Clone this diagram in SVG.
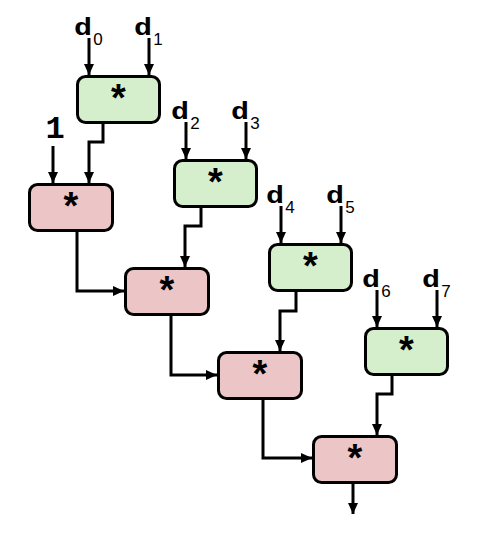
<svg xmlns="http://www.w3.org/2000/svg" width="498" height="546" viewBox="0 0 498 546">
<style>
.box{stroke:#000;stroke-width:3}
.g{fill:#d5efcc}
.r{fill:#ecc6c6}
.op{font-family:"Liberation Mono",monospace;font-weight:bold;font-size:38px;text-anchor:middle;fill:#000}
.d{font-family:"Liberation Mono",monospace;font-weight:bold;font-size:24px;fill:#000}
.s{font-family:"Liberation Sans",Arial,sans-serif;font-size:17px;fill:#000;text-anchor:middle}
.one{font-family:"Liberation Mono",monospace;font-weight:bold;font-size:32px;text-anchor:middle;fill:#000}
.w{fill:none;stroke:#000;stroke-width:3;marker-end:url(#ah)}
</style>
<defs>
<marker id="ah" markerUnits="userSpaceOnUse" markerWidth="12" markerHeight="10" refX="11" refY="5" orient="auto">
<path d="M0,0 L11,5 L0,10 z" fill="#000"/>
</marker>
</defs>
<rect width="498" height="546" fill="#fff"/>
<g id="connectors">
<line class="w" x1="89" y1="38" x2="89" y2="75"/>
<line class="w" x1="149" y1="38" x2="149" y2="75"/>
<line class="w" x1="186" y1="122" x2="186" y2="159"/>
<line class="w" x1="246" y1="122" x2="246" y2="159"/>
<line class="w" x1="281" y1="206" x2="281" y2="243"/>
<line class="w" x1="341" y1="206" x2="341" y2="243"/>
<line class="w" x1="377" y1="290" x2="377" y2="327"/>
<line class="w" x1="437" y1="290" x2="437" y2="327"/>
<line class="w" x1="53" y1="146" x2="53" y2="183"/>
<polyline class="w" points="103,124 103,142 89,142 89,183"/>
<polyline class="w" points="201,208 201,226 185,226 185,267"/>
<polyline class="w" points="296,292 296,311 280,311 280,351"/>
<polyline class="w" points="392,376 392,394 377,394 377,435"/>
<polyline class="w" points="77,231 77,291 124,291"/>
<polyline class="w" points="171,315 171,375 217,375"/>
<polyline class="w" points="263,399 263,458 312,458"/>
<line class="w" x1="353" y1="483" x2="353" y2="514"/>
</g>
<g id="in0"><text class="d" x="74" y="35" textLength="18" lengthAdjust="spacingAndGlyphs">d</text><text class="s" x="98" y="45">0</text></g>
<g id="in1"><text class="d" x="134" y="35" textLength="18" lengthAdjust="spacingAndGlyphs">d</text><text class="s" x="158" y="45">1</text></g>
<g id="in2"><text class="d" x="171" y="119" textLength="18" lengthAdjust="spacingAndGlyphs">d</text><text class="s" x="195" y="129">2</text></g>
<g id="in3"><text class="d" x="231" y="119" textLength="18" lengthAdjust="spacingAndGlyphs">d</text><text class="s" x="255" y="129">3</text></g>
<g id="in4"><text class="d" x="266" y="203" textLength="18" lengthAdjust="spacingAndGlyphs">d</text><text class="s" x="290" y="213">4</text></g>
<g id="in5"><text class="d" x="326" y="203" textLength="18" lengthAdjust="spacingAndGlyphs">d</text><text class="s" x="350" y="213">5</text></g>
<g id="in6"><text class="d" x="362" y="287" textLength="18" lengthAdjust="spacingAndGlyphs">d</text><text class="s" x="386" y="297">6</text></g>
<g id="in7"><text class="d" x="422" y="287" textLength="18" lengthAdjust="spacingAndGlyphs">d</text><text class="s" x="446" y="297">7</text></g>
<g id="one"><text class="one" x="55" y="138">1</text></g>
<g id="g1"><rect class="box g" x="77.5" y="76.5" width="82" height="46" rx="8"/><text class="op" x="118.5" y="112">*</text></g>
<g id="g2"><rect class="box g" x="174.5" y="160.5" width="82" height="46" rx="8"/><text class="op" x="215.5" y="196">*</text></g>
<g id="g3"><rect class="box g" x="269.5" y="244.5" width="82" height="46" rx="8"/><text class="op" x="310.5" y="280">*</text></g>
<g id="g4"><rect class="box g" x="365.5" y="328.5" width="82" height="46" rx="8"/><text class="op" x="406.5" y="364">*</text></g>
<g id="r1"><rect class="box r" x="29.5" y="184.5" width="83" height="46" rx="8"/><text class="op" x="71" y="220">*</text></g>
<g id="r2"><rect class="box r" x="125.5" y="268.5" width="83" height="46" rx="8"/><text class="op" x="167" y="304">*</text></g>
<g id="r3"><rect class="box r" x="218.5" y="352.5" width="83" height="46" rx="8"/><text class="op" x="260" y="388">*</text></g>
<g id="r4"><rect class="box r" x="313.5" y="436.5" width="83" height="46" rx="8"/><text class="op" x="355" y="472">*</text></g>
</svg>
